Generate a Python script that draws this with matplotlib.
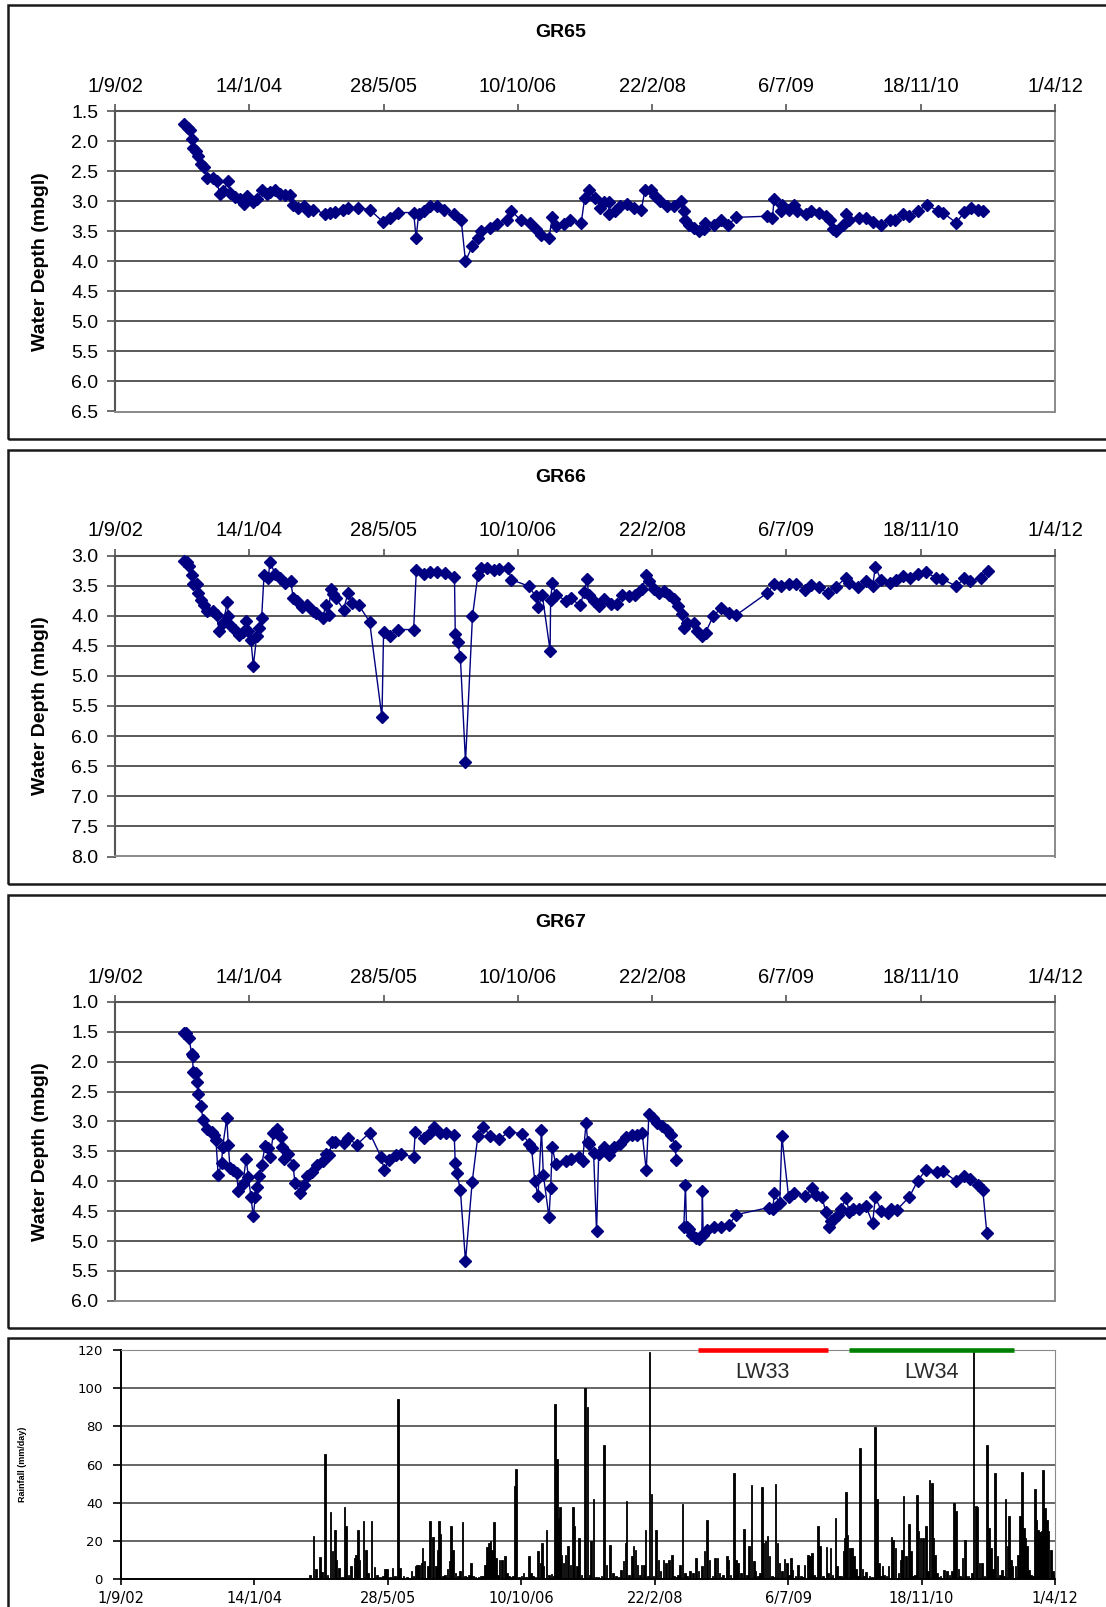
import numpy as np
import pandas as pd
import matplotlib
matplotlib.use("Agg")
import matplotlib.pyplot as plt
from matplotlib.patches import Rectangle

plt.rcParams["font.family"] = ["Liberation Sans", "DejaVu Sans"]

# ---------------------------------------------------------------------------
# Data (dates are Excel day serials)
# ---------------------------------------------------------------------------
tick_labels = ["1/9/02", "14/1/04", "28/5/05", "10/10/06",
               "22/2/08", "6/7/09", "18/11/10", "1/4/12"]

gr65_day = [
    37756, 37772, 37779, 37785, 37791, 37801, 37810, 37822, 37831, 37843,
    37866, 37878, 37891, 37903, 37922, 37928, 37947, 37965, 37980, 37993,
    38015, 38030, 38046, 38065, 38077, 38096, 38114, 38133, 38152, 38164,
    38183, 38202, 38220, 38239, 38282, 38301, 38320, 38348, 38369, 38403,
    38448, 38497, 38525, 38552, 38612, 38621, 38631, 38649, 38672, 38699,
    38724, 38761, 38789, 38805, 38830, 38851, 38863, 38898, 38923, 38960,
    38975, 39010, 39047, 39066, 39085, 39116, 39128, 39141, 39172, 39194,
    39236, 39249, 39265, 39289, 39307, 39320, 39338, 39341, 39363, 39382,
    39407, 39432, 39460, 39473, 39494, 39512, 39531, 39556, 39581, 39606,
    39618, 39624, 39637, 39655, 39674, 39693, 39697, 39730, 39755, 39784,
    39813, 39929, 39948, 39954, 39979, 39985, 40010, 40029, 40041, 40072,
    40091, 40122, 40147, 40162, 40172, 40184, 40209, 40222, 40234, 40271,
    40296, 40321, 40353, 40384, 40403, 40433, 40458, 40489, 40522, 40563,
    40582, 40632, 40663, 40688, 40713, 40731]
gr65_depth = [
    1.71, 1.78, 1.81, 1.97, 2.11, 2.17, 2.25, 2.39, 2.44, 2.62,
    2.62, 2.67, 2.88, 2.83, 2.67, 2.86, 2.93, 2.97, 3.04, 2.92,
    3.01, 2.97, 2.82, 2.88, 2.84, 2.81, 2.88, 2.90, 2.90, 3.06,
    3.11, 3.08, 3.17, 3.14, 3.21, 3.19, 3.18, 3.14, 3.11, 3.11,
    3.14, 3.34, 3.28, 3.19, 3.19, 3.61, 3.21, 3.17, 3.08, 3.08,
    3.14, 3.22, 3.31, 4.00, 3.75, 3.61, 3.49, 3.44, 3.38, 3.32,
    3.16, 3.31, 3.36, 3.47, 3.56, 3.61, 3.27, 3.42, 3.38, 3.32,
    3.36, 2.94, 2.82, 2.94, 3.11, 3.01, 3.01, 3.21, 3.16, 3.08,
    3.04, 3.12, 3.14, 2.82, 2.82, 2.92, 3.00, 3.08, 3.08, 3.00,
    3.17, 3.31, 3.39, 3.44, 3.50, 3.47, 3.36, 3.39, 3.31, 3.39,
    3.27, 3.25, 3.28, 2.97, 3.17, 3.06, 3.14, 3.07, 3.16, 3.22,
    3.17, 3.19, 3.25, 3.31, 3.47, 3.50, 3.39, 3.21, 3.32, 3.28,
    3.28, 3.34, 3.40, 3.32, 3.31, 3.22, 3.25, 3.17, 3.06, 3.16,
    3.19, 3.36, 3.18, 3.12, 3.14, 3.17]

gr66_day = [
    37756, 37768, 37776, 37785, 37791, 37804, 37810, 37822, 37831, 37843,
    37866, 37878, 37888, 37903, 37918, 37922, 37928, 37947, 37960, 37976,
    37988, 37997, 38006, 38015, 38028, 38038, 38046, 38055, 38071, 38077,
    38096, 38114, 38133, 38154, 38164, 38177, 38196, 38214, 38238, 38249,
    38274, 38285, 38295, 38303, 38313, 38323, 38351, 38367, 38382, 38407,
    38448, 38494, 38500, 38525, 38552, 38612, 38622, 38649, 38674, 38699,
    38730, 38764, 38767, 38776, 38786, 38805, 38831, 38851, 38863, 38886,
    38910, 38929, 38964, 38975, 39041, 39066, 39075, 39091, 39120, 39122,
    39128, 39141, 39178, 39197, 39232, 39247, 39257, 39264, 39282, 39301,
    39320, 39345, 39369, 39388, 39413, 39438, 39463, 39478, 39488, 39506,
    39525, 39544, 39563, 39581, 39597, 39610, 39618, 39631, 39656, 39668,
    39684, 39699, 39727, 39755, 39786, 39813, 39929, 39954, 39979, 40010,
    40037, 40069, 40091, 40122, 40153, 40184, 40222, 40234, 40265, 40296,
    40321, 40331, 40353, 40384, 40409, 40433, 40461, 40489, 40520, 40557,
    40580, 40632, 40663, 40684, 40725, 40750]
gr66_depth = [
    3.09, 3.11, 3.17, 3.32, 3.48, 3.48, 3.63, 3.74, 3.83, 3.92,
    3.93, 3.99, 4.25, 4.12, 3.78, 4.01, 4.16, 4.23, 4.32, 4.27,
    4.09, 4.25, 4.40, 4.83, 4.33, 4.21, 4.03, 3.32, 3.37, 3.10,
    3.31, 3.38, 3.46, 3.43, 3.71, 3.75, 3.85, 3.82, 3.93, 3.96,
    4.03, 3.82, 3.99, 3.56, 3.64, 3.71, 3.90, 3.63, 3.79, 3.82,
    4.10, 5.69, 4.27, 4.33, 4.23, 4.23, 3.24, 3.31, 3.27, 3.28,
    3.29, 3.35, 4.31, 4.44, 4.69, 6.43, 4.01, 3.33, 3.20, 3.21,
    3.24, 3.22, 3.21, 3.40, 3.51, 3.68, 3.86, 3.66, 4.58, 3.74,
    3.46, 3.65, 3.75, 3.71, 3.83, 3.60, 3.39, 3.65, 3.76, 3.84,
    3.73, 3.80, 3.80, 3.66, 3.67, 3.66, 3.56, 3.32, 3.42, 3.56,
    3.62, 3.59, 3.65, 3.73, 3.84, 3.98, 4.21, 4.12, 4.12, 4.25,
    4.33, 4.28, 4.01, 3.88, 3.96, 3.99, 3.62, 3.47, 3.51, 3.48,
    3.47, 3.58, 3.49, 3.53, 3.62, 3.52, 3.37, 3.45, 3.53, 3.42,
    3.51, 3.19, 3.41, 3.45, 3.41, 3.34, 3.38, 3.30, 3.28, 3.37,
    3.39, 3.51, 3.38, 3.42, 3.38, 3.25]

# a missing reading in early 2008 leaves a break in the GR67 line
gr67_day = [
    37756, 37766, 37776, 37785, 37789, 37791, 37801, 37806, 37810, 37819,
    37829, 37843, 37860, 37868, 37876, 37884, 37897, 37901, 37916, 37922,
    37928, 37940, 37953, 37959, 37976, 37988, 37997, 38006, 38015, 38022,
    38030, 38038, 38046, 38059, 38071, 38077, 38090, 38102, 38117, 38121,
    38130, 38146, 38163, 38170, 38189, 38204, 38214, 38232, 38251, 38276,
    38286, 38298, 38307, 38320, 38351, 38369, 38400, 38448, 38490, 38503,
    38519, 38547, 38565, 38612, 38618, 38649, 38674, 38689, 38711, 38733,
    38763, 38767, 38773, 38786, 38805, 38830, 38851, 38871, 38898, 38930,
    38967, 39017, 39042, 39051, 39063, 39075, 39088, 39095, 39116, 39122,
    39128, 39141, 39178, 39197, 39228, 39241, 39254, 39260, 39264, 39282,
    39293, 39301, 39320, 39341, 39357, 39382, 39401, 39426, 39444, 39463,
    39478, 39488, 39503, 39519, 39538, 39556, 39572, 39585, 39590, 39605,
    39618, 39624, 39628, 39637, 39649, 39662, 39674, 39685, 39687, 39690,
    39705, 39730, 39755, 39786, 39813, 39935, 39950, 39954, 39975, 39983,
    40008, 40029, 40070, 40095, 40110, 40132, 40147, 40157, 40166, 40178,
    40191, 40203, 40222, 40234, 40247, 40271, 40296, 40321, 40331, 40353,
    40378, 40390, 40411, 40458, 40489, 40520, 40560, 40582, 40632, 40663,
    40684, 40713, 40731, 40746]
gr67_depth = [
    1.52, 1.53, 1.61, 1.87, 1.91, 2.17, 2.19, 2.34, 2.54, 2.74,
    2.98, 3.12, 3.17, 3.23, 3.31, 3.90, 3.70, 3.42, 2.95, 3.39,
    3.78, 3.81, 3.87, 4.17, 4.05, 3.63, 3.93, 4.26, 4.59, 4.27,
    4.10, 3.91, 3.73, 3.41, 3.45, 3.60, 3.20, 3.12, 3.26, 3.42,
    3.63, 3.54, 3.73, 4.03, 4.19, 4.06, 3.92, 3.84, 3.73, 3.67,
    3.54, 3.56, 3.34, 3.34, 3.36, 3.28, 3.39, 3.19, 3.59, 3.81,
    3.65, 3.56, 3.54, 3.60, 3.17, 3.27, 3.20, 3.10, 3.19, 3.19,
    3.23, 3.70, 3.86, 4.15, 5.34, 4.01, 3.25, 3.10, 3.24, 3.30,
    3.17, 3.21, 3.37, 3.45, 3.99, 4.25, 3.14, 3.90, 4.60, 4.12,
    3.43, 3.71, 3.66, 3.63, 3.59, 3.66, 3.03, 3.34, 3.37, 3.53,
    4.84, 3.55, 3.42, 3.56, 3.42, 3.37, 3.26, 3.23, 3.23, 3.20,
    3.82, 2.88, 2.95, 3.03, 3.08, 3.14, 3.23, 3.41, 3.64, np.nan,
    4.76, 4.06, 4.76, 4.80, 4.90, 4.95, 4.97, 4.90, 4.16, 4.90,
    4.81, 4.77, 4.76, 4.73, 4.56, 4.44, 4.47, 4.20, 4.37, 3.25,
    4.26, 4.20, 4.25, 4.12, 4.23, 4.27, 4.51, 4.76, 4.67, 4.64,
    4.56, 4.47, 4.28, 4.52, 4.47, 4.46, 4.42, 4.70, 4.27, 4.49,
    4.54, 4.46, 4.48, 4.26, 3.99, 3.81, 3.85, 3.83, 4.00, 3.92,
    3.97, 4.07, 4.14, 4.86]

rain_day = [
    38208, 38222, 38231, 38245, 38254, 38265, 38274, 38285, 38292, 38301,
    38308, 38316, 38329, 38337, 38343, 38352, 38363, 38375, 38381, 38388,
    38394, 38408, 38419, 38425, 38439, 38450, 38459, 38470, 38481, 38490,
    38497, 38508, 38517, 38527, 38537, 38546, 38558, 38572, 38589, 38596,
    38603, 38610, 38616, 38626, 38630, 38638, 38651, 38658, 38667, 38671,
    38680, 38687, 38691, 38698, 38707, 38715, 38723, 38731, 38737, 38743,
    38754, 38763, 38771, 38779, 38789, 38797, 38805, 38811, 38818, 38829,
    38840, 38848, 38856, 38863, 38871, 38879, 38885, 38891, 38898, 38906,
    38913, 38919, 38928, 38938, 38946, 38954, 38962, 38969, 38976, 38980,
    38992, 39001, 39009, 39018, 39029, 39036, 39044, 39053, 39063, 39072,
    39078, 39083, 39094, 39103, 39113, 39120, 39127, 39133, 39139, 39146,
    39149, 39158, 39166, 39176, 39184, 39193, 39200, 39208, 39217, 39225,
    39238, 39248, 39257, 39261, 39271, 39280, 39290, 39300, 39310, 39319,
    39332, 39343, 39356, 39365, 39374, 39383, 39390, 39394, 39403, 39414,
    39420, 39428, 39435, 39444, 39451, 39460, 39466, 39474, 39481, 39488,
    39496, 39505, 39514, 39522, 39533, 39543, 39553, 39564, 39573, 39580,
    39587, 39594, 39604, 39613, 39622, 39633, 39644, 39655, 39664, 39678,
    39686, 39697, 39705, 39716, 39726, 39736, 39743, 39750, 39757, 39770,
    39777, 39784, 39796, 39804, 39813, 39824, 39835, 39845, 39854, 39862,
    39872, 39878, 39887, 39895, 39903, 39908, 39915, 39922, 39930, 39939,
    39946, 39953, 39960, 39967, 39976, 39987, 39995, 40003, 40010, 40017,
    40028, 40038, 40048, 40055, 40062, 40075, 40082, 40089, 40096, 40104,
    40112, 40120, 40130, 40143, 40150, 40158, 40166, 40177, 40184, 40190,
    40197, 40207, 40212, 40217, 40223, 40231, 40239, 40247, 40255, 40262,
    40269, 40278, 40285, 40292, 40305, 40315, 40325, 40333, 40340, 40347,
    40354, 40360, 40368, 40376, 40387, 40394, 40403, 40414, 40421, 40427,
    40433, 40441, 40452, 40461, 40468, 40475, 40482, 40489, 40496, 40505,
    40516, 40523, 40530, 40538, 40544, 40550, 40557, 40564, 40571, 40584,
    40595, 40604, 40615, 40622, 40629, 40638, 40645, 40654, 40662, 40669,
    40676, 40689, 40695, 40703, 40710, 40717, 40726, 40736, 40746, 40753,
    40760, 40767, 40776, 40784, 40794, 40801, 40808, 40814, 40822, 40828,
    40834, 40841, 40852, 40862, 40869, 40876, 40883, 40890, 40896, 40902,
    40909, 40918, 40925, 40930, 40936, 40943, 40950, 40956, 40963, 40970,
    40976, 40985, 40993, 41000, 41007]
rain_mm = [
    2.0, 22.7, 5.0, 11.3, 3.5, 65.6, 2.0, 34.9, 14.5, 25.8,
    10.0, 6.0, 1.0, 37.7, 27.6, 2.3, 7.0, 11.0, 12.7, 25.8,
    10.0, 30.2, 15.3, 3.0, 30.2, 6.3, 2.0, 1.0, 1.5, 5.0,
    5.0, 1.2, 5.8, 1.7, 94.2, 5.8, 1.5, 1.0, 4.0, 1.5,
    7.0, 7.5, 7.5, 8.4, 16.2, 9.2, 6.6, 30.2, 22.0, 22.0,
    6.6, 15.3, 30.2, 23.7, 1.4, 2.0, 5.0, 9.2, 27.9, 15.3,
    3.0, 1.7, 4.0, 29.7, 1.4, 1.0, 2.3, 8.4, 1.7, 1.0,
    1.0, 1.5, 1.7, 7.5, 17.0, 18.8, 19.7, 15.3, 29.7, 11.0,
    2.0, 10.1, 10.1, 11.9, 3.0, 1.5, 1.0, 1.7, 48.5, 57.6,
    1.0, 1.5, 3.0, 1.0, 11.9, 3.0, 1.5, 1.0, 14.5, 8.4,
    18.8, 6.6, 25.8, 2.3, 2.8, 1.5, 91.7, 62.8, 32.0, 37.8,
    12.8, 8.4, 12.8, 17.5, 7.5, 37.8, 28.0, 6.6, 21.5, 2.0,
    99.9, 90.3, 2.0, 19.8, 42.0, 1.0, 1.0, 1.4, 70.0, 7.5,
    18.0, 3.0, 1.4, 1.0, 4.5, 9.3, 18.9, 40.8, 2.3, 11.9,
    17.5, 15.0, 7.5, 2.0, 7.5, 7.5, 25.9, 1.4, 119.0, 44.3,
    1.4, 25.9, 10.1, 4.0, 10.1, 8.4, 10.1, 12.8, 1.7, 1.0,
    2.3, 7.5, 39.5, 3.0, 1.5, 4.0, 3.0, 11.0, 4.0, 6.6,
    14.5, 30.8, 10.1, 1.7, 11.0, 11.0, 3.0, 1.0, 2.3, 11.9,
    10.1, 2.3, 55.6, 10.1, 8.4, 3.0, 26.2, 2.3, 17.1, 49.0,
    9.3, 4.0, 1.5, 3.0, 48.1, 18.9, 19.8, 22.7, 11.9, 1.7,
    1.0, 50.0, 18.9, 8.4, 4.0, 10.5, 8.4, 2.3, 11.0, 4.9,
    1.4, 7.5, 1.4, 1.0, 7.5, 12.8, 12.2, 13.6, 2.3, 1.0,
    27.6, 17.1, 1.7, 16.8, 3.0, 16.3, 2.3, 32.0, 6.6, 1.5,
    1.4, 14.5, 21.5, 45.5, 23.3, 16.3, 16.3, 12.2, 5.0, 1.5,
    68.7, 5.0, 1.5, 3.5, 1.4, 1.0, 79.6, 42.0, 8.4, 1.5,
    7.0, 2.3, 1.5, 7.0, 22.0, 20.6, 16.3, 3.0, 10.1, 15.4,
    43.7, 11.9, 29.0, 14.5, 1.5, 2.3, 44.0, 25.0, 21.5, 21.5,
    27.6, 4.0, 52.0, 50.4, 21.5, 12.8, 3.0, 1.0, 1.4, 4.9,
    4.0, 2.3, 4.0, 39.9, 35.5, 5.0, 1.7, 11.0, 20.3, 1.5,
    1.4, 3.0, 119.0, 38.1, 37.8, 8.4, 8.4, 1.4, 70.0, 26.8,
    16.3, 5.0, 55.3, 11.9, 2.3, 4.9, 1.5, 42.0, 17.1, 32.9,
    10.1, 6.6, 6.6, 12.8, 32.9, 56.0, 26.8, 21.5, 17.1, 4.5,
    2.3, 1.5, 46.9, 30.8, 25.9, 24.5, 25.0, 57.0, 37.3, 30.8,
    25.0, 15.4, 4.0, 2.0, 3.1]

# longwall extraction periods (Excel serials)
longwall_names = ["LW33", "LW34"]
longwall_start = [39661, 40228]
longwall_end = [40150, 40848]
longwall_colors = ["#ff0000", "#008000"]

# ---------------------------------------------------------------------------
W, H = 1106, 1607
fig = plt.figure(figsize=(W / 100, H / 100), dpi=100)


def px_axes(left, top, right, bottom):
    return fig.add_axes([left / W, 1 - bottom / H, (right - left) / W, (bottom - top) / H])


def to_dates(serials):
    return pd.to_datetime(np.asarray(serials, dtype=float), unit="D", origin="1899-12-30")


def frame(top, bottom):
    fig.add_artist(Rectangle((7.5 / W, 1 - bottom / H), (W + 20) / W, (bottom - top) / H,
                             transform=fig.transFigure, fill=False, lw=1.8,
                             ec="#1a1a1a", clip_on=False))


tick_dates = pd.to_datetime(tick_labels, format="%d/%m/%y")
navy = "#000080"
grid_c = "#3c3c3c"


def depth_panel(box, ax_box, name, days, depths, yticks):
    frame(*box)
    ax = px_axes(*ax_box)
    ax.plot(to_dates(days), depths, color=navy, lw=1.0, marker="D", ms=5.8,
            mfc=navy, mec=navy, zorder=3, clip_on=False)
    ax.set_xlim(tick_dates[0], tick_dates[-1])
    ax.set_ylim(yticks[-1], yticks[0])
    ax.set_yticks(yticks)
    ax.set_yticklabels([f"{v:.1f}" for v in yticks], fontsize=14)
    ax.xaxis.tick_top()
    ax.set_xticks(tick_dates)
    ax.set_xticklabels(tick_labels, fontsize=14.5)
    ax.tick_params(axis="x", direction="out", length=5, width=1.2, color="#555555", pad=6)
    ax.tick_params(axis="y", direction="out", length=6, width=1.2, color="#555555", pad=6)
    for y in yticks[1:-1]:
        ax.axhline(y, color=grid_c, lw=1.2, zorder=1)
    for side in ("left", "top"):
        ax.spines[side].set_color("#555555")
        ax.spines[side].set_linewidth(1.5)
    for side in ("right", "bottom"):
        ax.spines[side].set_color("#8a8a8a")
        ax.spines[side].set_linewidth(1.4)
    ax.set_ylabel("Water Depth (mbgl)", fontsize=14, fontweight="bold")
    ax.yaxis.set_label_coords((49 - ax_box[0]) / (ax_box[2] - ax_box[0]), 0.5)
    fig.text(561 / W, 1 - (box[0] + 27) / H, name, ha="center", va="center",
             fontsize=14, fontweight="bold")
    return ax


depth_panel((5.5, 439), (115, 111, 1055, 411.5), "GR65", gr65_day, gr65_depth,
            np.arange(1.5, 6.51, 0.5))
depth_panel((450, 883.5), (115, 555.5, 1055, 856.5), "GR66", gr66_day, gr66_depth,
            np.arange(3.0, 8.01, 0.5))
depth_panel((895, 1328), (115, 1001.8, 1055, 1300.8), "GR67", gr67_day, gr67_depth,
            np.arange(1.0, 6.01, 0.5))

# ---------------------------------------------------------------------------
# Rainfall
frame(1338, H + 20)
axr = px_axes(121, 1350, 1055, 1579)
order = np.argsort(rain_day)
axr.bar(to_dates(np.asarray(rain_day)[order]), np.asarray(rain_mm)[order], width=6,
        color="black", edgecolor="black", lw=0.6, zorder=3)
axr.set_xlim(tick_dates[0], tick_dates[-1])
axr.set_ylim(0, 120)
rain_ticks = np.arange(0, 121, 20)
axr.set_yticks(rain_ticks)
axr.set_yticklabels([str(v) for v in rain_ticks], fontsize=9.5,
                    family=["DejaVu Sans"])
axr.set_xticks(tick_dates)
axr.set_xticklabels(tick_labels, fontsize=10.5, family=["DejaVu Sans"])
axr.tick_params(axis="x", direction="out", length=4, width=1.2, pad=5)
axr.tick_params(axis="y", direction="out", length=6, width=1.2, pad=7)
for y in rain_ticks[1:]:
    axr.axhline(y, color=grid_c if y < 120 else "#8a8a8a", lw=1.1, zorder=1)
axr.spines["left"].set_linewidth(1.4)
axr.spines["bottom"].set_linewidth(1.4)
axr.spines["top"].set_color("#8a8a8a")
axr.spines["right"].set_color("#8a8a8a")
axr.set_ylabel("Rainfall (mm/day)", fontsize=6.5, fontweight="bold")
axr.yaxis.set_label_coords((27 - 121) / (1055 - 121), 0.5)

for name, s, e, c in zip(longwall_names, longwall_start, longwall_end, longwall_colors):
    d0, d1 = to_dates([s, e])
    axr.plot([d0, d1], [120, 120], color=c, lw=3.3, solid_capstyle="butt",
             clip_on=False, zorder=5)
    axr.text(to_dates([(s + e) / 2])[0], 108, name, ha="center", va="center",
             fontsize=15.5, color="#2a2a2a")

fig.savefig("out.png", dpi=100)
